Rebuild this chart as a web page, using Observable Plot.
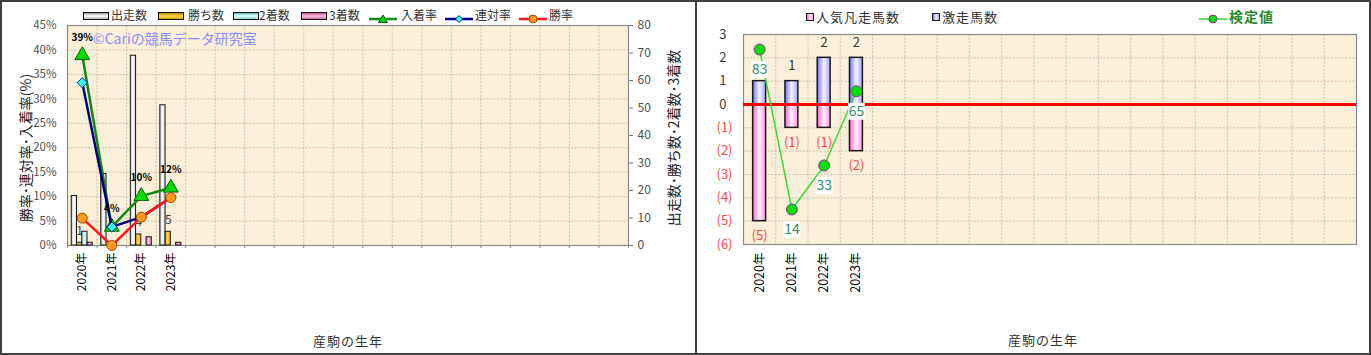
<!DOCTYPE html>
<html><head><meta charset="utf-8">
<script src="https://cdn.jsdelivr.net/npm/d3@7"></script>
<script src="https://cdn.jsdelivr.net/npm/@observablehq/plot@0.6"></script>
<style>
html,body{margin:0;padding:0;background:#fff;}
#root{position:relative;width:1371px;height:355px;overflow:hidden;font-family:"Noto Sans CJK JP","Noto Sans",sans-serif;}
.abs{position:absolute;white-space:nowrap;line-height:1;}
</style></head><body><div id="root"></div>
<script>
// ---------------- data ----------------
const years = ["2020年", "2021年", "2022年", "2023年"];
const slotCount = 19;
const seriesNames = ["出走数", "勝ち数", "2着数", "3着数"];
const starts  = [18, 26, 69, 51];   // 出走数
const wins    = [1, 0, 4, 5];       // 勝ち数
const seconds = [5, 1, 0, 0];       // 2着数
const thirds  = [1, 0, 3, 1];       // 3着数
const placeRate    = [38.9, 3.8, 10.1, 11.8]; // 入着率 (%)
const quinellaRate = [33.3, 3.8, 5.8, 9.8];   // 連対率 (%)
const winRate      = [5.6, 0, 5.8, 9.8];      // 勝率 (%)
const placeRateLabels = ["39%", "4%", "10%", "12%"];
const leftTicks  = [0, 5, 10, 15, 20, 25, 30, 35, 40, 45];
const rightTicks = [0, 10, 20, 30, 40, 50, 60, 70, 80];

const popularFlops = [-5, -1, -1, -2]; // 人気凡走馬数
const upsets       = [1, 1, 2, 2];     // 激走馬数
const upsetLabels  = ["", "1", "2", "2"]; // 2020 label is hidden under the 検定値 box
const flopLabels   = ["(5)", "(1)", "(1)", "(2)"];
const testValues   = [83, 14, 33, 65]; // 検定値
const rightPosTicks = [0, 1, 2, 3];
const rightNegTicks = [-1, -2, -3, -4, -5, -6];

// ---------------- helpers ----------------
const root = document.getElementById("root");
const FONT = '"Noto Sans CJK JP","Noto Sans",sans-serif';
function layerStyle(left) {
  return {background: "transparent", position: "absolute", left: left + "px", top: "0px", overflow: "visible", maxWidth: "none", fontFamily: FONT};
}
function addDefs(svg, inner) {
  const defs = document.createElementNS("http://www.w3.org/2000/svg", "defs");
  defs.innerHTML = inner;
  svg.insertBefore(defs, svg.firstChild);
}
function hgrad(id, stops) {
  return `<linearGradient id="${id}" x1="0" x2="1" y1="0" y2="0">${stops.map(([o, c]) => `<stop offset="${o}" stop-color="${c}"/>`).join("")}</linearGradient>`;
}
function el(html, style) {
  const d = document.createElement("div");
  d.className = "abs";
  Object.assign(d.style, style);
  d.innerHTML = html;
  root.appendChild(d);
  return d;
}
const BG = "#faefd8";
const GRID = {stroke: "#a89f8c", strokeOpacity: 0.55, strokeDasharray: "2,1.5"};

// ---------------- LEFT PANEL ----------------
const L = {width: 697, height: 300, marginLeft: 67, marginRight: 69, marginTop: 25, marginBottom: 55};

const leftBg = Plot.plot({
  ...L, style: layerStyle(0),
  x: {type: "linear", domain: [0, slotCount], axis: null},
  y: {domain: [0, 45], axis: null},
  marks: [
    Plot.frame({fill: BG, stroke: null}),
    Plot.gridX(d3.range(1, slotCount), GRID),
    Plot.gridY(leftTicks.slice(1, -1), GRID),
    Plot.frame({stroke: "#8a8a8a", strokeWidth: 1.2}),
    Plot.axisX(d3.range(0, slotCount + 1), {tickFormat: () => "", tickSize: 3, stroke: "#8a8a8a", label: null}),
    Plot.axisY(leftTicks, {tickFormat: d => d + "%", tickSize: 0, tickPadding: 11, fontSize: 11.5, fill: "#505050", label: null})
  ]
});
root.appendChild(leftBg);

const countRows = years.flatMap((yr, i) => [
  {slot: i, series: "出走数", value: starts[i]},
  {slot: i, series: "勝ち数", value: wins[i]},
  {slot: i, series: "2着数", value: seconds[i]},
  {slot: i, series: "3着数", value: thirds[i]}
]);
const barFill = {"出走数": "url(#gStarts)", "勝ち数": "url(#gWins)", "2着数": "url(#gSeconds)", "3着数": "url(#gThirds)"};
const leftBars = Plot.plot({
  ...L, style: layerStyle(0),
  fx: {domain: d3.range(slotCount), padding: 0, round: false, axis: null},
  x: {domain: seriesNames, paddingInner: 0, paddingOuter: 0.81, round: false, axis: null},
  y: {domain: [0, 80], axis: null},
  marks: [
    ...seriesNames.map(s => Plot.barY(countRows.filter(d => d.series === s && d.value > 0),
      {fx: "slot", x: "series", y: "value", fill: barFill[s], stroke: "#1a1a1a", strokeWidth: 1})),
    Plot.text(countRows.filter(d => d.series === "勝ち数" && d.value > 0),
      {fx: "slot", x: "series", y: "value", text: d => String(d.value), dy: -12, fontSize: 12, fill: "#404040"})
  ]
});
addDefs(leftBars,
  hgrad("gStarts", [[0, "#b8b8b8"], [0.45, "#ffffff"], [1, "#d0d0d0"]]) +
  hgrad("gWins", [[0, "#c89000"], [0.45, "#ffd84a"], [1, "#e0a800"]]) +
  hgrad("gSeconds", [[0, "#7cc8c8"], [0.45, "#e6ffff"], [1, "#a0dede"]]) +
  hgrad("gThirds", [[0, "#d0609a"], [0.45, "#ffc0e0"], [1, "#e080b8"]]));
root.appendChild(leftBars);

const leftRightAxis = Plot.plot({
  ...L, style: layerStyle(0),
  y: {domain: [0, 80], axis: null},
  marks: [
    Plot.axisY(rightTicks, {anchor: "right", tickSize: 4, tickPadding: 5, fontSize: 12, fill: "#505050", stroke: "#707070", label: null})
  ]
});
root.appendChild(leftRightAxis);

const rateRows = years.map((yr, i) => ({i, place: placeRate[i], quin: quinellaRate[i], win: winRate[i], label: placeRateLabels[i]}));
const leftLines = Plot.plot({
  ...L, style: layerStyle(0),
  x: {type: "point", domain: d3.range(slotCount), padding: 0.5, round: false, axis: null},
  y: {domain: [0, 45], axis: null},
  marks: [
    Plot.axisX({tickFormat: i => years[i] ?? "", tickRotate: -90, tickSize: 0, tickPadding: 7, fontSize: 12, fill: "#000", label: null}),
    Plot.line(rateRows, {x: "i", y: "place", stroke: "#128a12", strokeWidth: 2.5}),
    Plot.dot(rateRows, {x: "i", y: "place", symbol: "triangle", r: 5.5, fill: "#00dd00", stroke: "#0a5a0a", strokeWidth: 1}),
    Plot.line(rateRows, {x: "i", y: "quin", stroke: "#000080", strokeWidth: 2.5}),
    Plot.dot(rateRows, {x: "i", y: "quin", symbol: "diamond2", r: 4.5, fill: "#33ffff", stroke: "#0020a0", strokeWidth: 1}),
    Plot.line(rateRows, {x: "i", y: "win", stroke: "#ff1a1a", strokeWidth: 2.5}),
    Plot.dot(rateRows, {x: "i", y: "win", r: 5, fill: "#ff9a1a", stroke: "#a04a00", strokeWidth: 1}),
    Plot.text(rateRows, {x: "i", y: "place", text: "label", dy: -18, fontSize: 10, fontWeight: "bold", fill: "#000"})
  ]
});
root.appendChild(leftLines);

function barSwatch(x, grad) {
  el("", {left: x + "px", top: "12px", width: "24px", height: "6px", border: "1px solid #111", background: grad});
}
function lineSwatch(x, color, marker) {
  el(`<svg width="28" height="12" viewBox="0 0 28 12"><line x1="0" y1="6" x2="28" y2="6" stroke="${color}" stroke-width="2.5"/>${marker}</svg>`, {left: x + "px", top: "10px"});
}
const legTxt = {fontSize: "12px", color: "#333", top: "9px"};
barSwatch(83, "linear-gradient(#9a9a9a,#ffffff 50%,#b0b0b0)");
el("出走数", {...legTxt, left: "111px"});
barSwatch(158, "linear-gradient(#b88400,#ffd84a 50%,#d8a000)");
el("勝ち数", {...legTxt, left: "188px"});
barSwatch(233, "linear-gradient(#60b8b8,#e6ffff 50%,#88d0d0)");
el("2着数", {...legTxt, left: "259px"});
barSwatch(301, "linear-gradient(#c05090,#ffc0e0 50%,#d070a8)");
el("3着数", {...legTxt, left: "329px"});
lineSwatch(369, "#128a12", `<path d="M14,2 L18.5,9.5 L9.5,9.5 Z" fill="#00dd00" stroke="#0a5a0a" stroke-width="1"/>`);
el("入着率", {...legTxt, left: "401px"});
lineSwatch(445, "#000080", `<path d="M14,2.5 L17.5,6 L14,9.5 L10.5,6 Z" fill="#33ffff" stroke="#0020a0" stroke-width="1"/>`);
el("連対率", {...legTxt, left: "475px"});
lineSwatch(519, "#ff1a1a", `<circle cx="14" cy="6" r="4" fill="#ff9a1a" stroke="#a04a00" stroke-width="1"/>`);
el("勝率", {...legTxt, left: "549px"});

el("©Cariの競馬データ研究室", {left: "93px", top: "31px", fontSize: "14px", color: "#8c8cff"});

el("勝率･連対率･入着率(%)", {left: "25px", top: "148px", fontSize: "14px", color: "#222", transform: "translate(-50%,-50%) rotate(-90deg)"});
el("出走数･勝ち数･2着数･3着数", {left: "673px", top: "138px", fontSize: "14px", color: "#222", transform: "translate(-50%,-50%) rotate(-90deg)"});
el("産駒の生年", {left: "348px", top: "340px", fontSize: "13px", color: "#333", letterSpacing: "1px", transform: "translate(-50%,-50%)"});

// ---------------- RIGHT PANEL ----------------
const R = {width: 674, height: 300, marginLeft: 46, marginRight: 15, marginTop: 34, marginBottom: 56};
const rightBg = Plot.plot({
  ...R, style: layerStyle(697),
  x: {type: "linear", domain: [0, slotCount], axis: null},
  y: {domain: [-6, 3], axis: null},
  marks: [
    Plot.frame({fill: BG, stroke: null}),
    Plot.gridX(d3.range(1, slotCount), GRID),
    Plot.gridY(d3.range(-5, 3), GRID),
    Plot.frame({stroke: "#8a8a8a", strokeWidth: 1.2}),
    Plot.axisY(rightPosTicks, {tickFormat: d => String(d), tickSize: 0, tickPadding: 17, fontSize: 13, fill: "#404040", label: null}),
    Plot.axisY(rightNegTicks, {tickFormat: d => `(${-d})`, tickSize: 0, tickPadding: 11, fontSize: 13, fill: "#ff4a4a", label: null})
  ]
});
root.appendChild(rightBg);

const rightRows = years.map((yr, i) => ({i, up: upsets[i], flop: popularFlops[i], upL: upsetLabels[i], flopL: flopLabels[i], test: testValues[i]}));
const rightBars = Plot.plot({
  ...R, style: layerStyle(697),
  x: {type: "band", domain: d3.range(slotCount), paddingInner: 0.6, paddingOuter: 0.3, round: false, axis: null},
  y: {domain: [-6, 3], axis: null},
  marks: [
    Plot.axisX({tickFormat: i => years[i] ?? "", tickRotate: -90, tickSize: 0, tickPadding: 8, fontSize: 12.5, fill: "#000", label: null}),
    Plot.barY(rightRows, {x: "i", y: "flop", fill: "url(#gFlop)", stroke: "#1a1a1a", strokeWidth: 1.5}),
    Plot.barY(rightRows, {x: "i", y: "up", fill: "url(#gUp)", stroke: "#1a1a1a", strokeWidth: 1.5}),
    Plot.ruleY([0], {stroke: "#ff0000", strokeWidth: 3}),
    Plot.text(rightRows.filter(d => d.upL), {x: "i", y: "up", text: "upL", dy: -15, fontSize: 13, fill: "#333"}),
    Plot.text(rightRows, {x: "i", y: "flop", text: "flopL", dy: 15, fontSize: 13, fill: "#ff4a4a"})
  ]
});
addDefs(rightBars,
  hgrad("gFlop", [[0, "#ff60d0"], [0.5, "#fff0fb"], [1, "#ff9ce6"]]) +
  hgrad("gUp", [[0, "#7070ff"], [0.5, "#f4f4ff"], [1, "#a8a8ff"]]));
root.appendChild(rightBars);

const rightLine = Plot.plot({
  ...R, style: layerStyle(697),
  x: {type: "point", domain: d3.range(slotCount), padding: 0.5, round: false, axis: null},
  y: {domain: [-1.1, 89.5], axis: null},
  marks: [
    Plot.line(rightRows, {x: "i", y: "test", stroke: "#33dd33", strokeWidth: 1.5}),
    Plot.dot(rightRows, {x: "i", y: "test", r: 5.5, fill: "#00e000", stroke: "#993399", strokeWidth: 1}),
    Plot.dot(rightRows, {x: "i", y: "test", dy: 20, symbol: "square", r: 9.5, fill: "#ffffff"}),
    Plot.text(rightRows, {x: "i", y: "test", dy: 20, text: d => String(d.test), fontSize: 14, fill: "#2f8f6a"})
  ]
});
root.appendChild(rightLine);

el("", {left: "806px", top: "13px", width: "6px", height: "6px", border: "1px solid #222", background: "linear-gradient(to right,#ff60d0,#fff0fb,#ff9ce6)"});
el("人気凡走馬数", {left: "816px", top: "10px", fontSize: "13px", letterSpacing: "1px", color: "#333"});
el("", {left: "932px", top: "13px", width: "6px", height: "6px", border: "1px solid #222", background: "linear-gradient(to right,#7070ff,#f4f4ff,#a8a8ff)"});
el("激走馬数", {left: "942px", top: "10px", fontSize: "13px", letterSpacing: "1px", color: "#333"});
el(`<svg width="28" height="12" viewBox="0 0 28 12"><line x1="0" y1="6" x2="28" y2="6" stroke="#33cc33" stroke-width="1.5"/><circle cx="14" cy="6" r="4" fill="#00e000" stroke="#993399" stroke-width="1"/></svg>`, {left: "1199px", top: "10px"});
el("検定値", {left: "1229px", top: "9px", fontSize: "14px", letterSpacing: "1px", color: "#2a8a2a", fontWeight: "bold"});
el("産駒の生年", {left: "1043px", top: "339px", fontSize: "13px", color: "#333", letterSpacing: "1px", transform: "translate(-50%,-50%)"});

el("", {left: "0px", top: "0px", width: "1371px", height: "355px", boxSizing: "border-box", border: "2px solid #404040"});
el("", {left: "695px", top: "0px", width: "2px", height: "355px", background: "#404040"});
</script></body></html>
